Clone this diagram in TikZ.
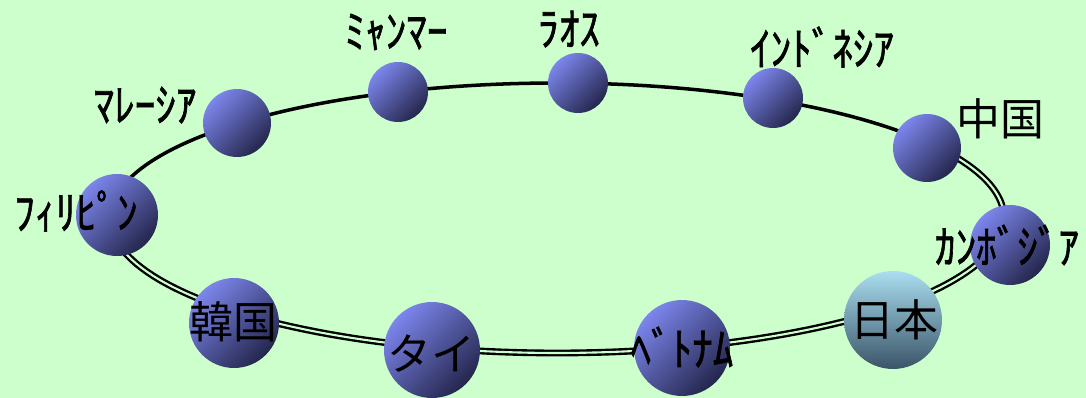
\documentclass[tikz,border=0pt]{standalone}
\usepackage{fontspec}
\newfontfamily\jpfont{Noto Sans CJK JP}
\newfontfamily\kanafont{Noto Sans CJK JP}[FakeBold=1.3, FakeStretch=0.9]
\definecolor{bgmint}{RGB}{204,255,204}
\definecolor{ballhi}{RGB}{124,134,236}
\definecolor{ballmid}{RGB}{98,104,200}
\definecolor{balllo}{RGB}{36,38,76}
\definecolor{japhi}{RGB}{170,222,240}
\definecolor{japmid}{RGB}{122,170,192}
\definecolor{japlo}{RGB}{58,84,104}

\begin{document}
\begin{tikzpicture}[
  x=0.02cm, y=-0.02cm,
  lbl/.style={font=\kanafont\fontsize{26}{26}\selectfont, inner sep=0pt},
  bigl/.style={font=\jpfont\fontsize{25}{25}\selectfont, inner sep=0pt},
  ball/.style={circle, minimum size=0.04cm*#1, inner sep=0pt,
               top color=ballhi, middle color=ballmid, bottom color=balllo, shading angle=45},
  jball/.style={ball=#1, top color=japhi, middle color=japmid, bottom color=japlo},
  ring/.style={draw=black, line width=2pt},
  dring/.style={draw=black, line width=1.35pt, double=bgmint, double distance=1.2pt}
]
% background
\fill[bgmint] (0,0) rectangle (1086,398);

% the ring: single line on top, double line below
\draw[ring]  plot[domain=180:326, samples=90] ({557+447*cos(\x)}, {218+135*sin(\x)});
\draw[dring] plot[domain=326:540, samples=120] ({557+447*cos(\x)}, {218+135*sin(\x)});

% balls on the ring
\node[ball=41] (phl) at (117,215) {};
\node[ball=34] (mys) at (237,123) {};
\node[ball=30] (mmr) at (398,92)  {};
\node[ball=30] (lao) at (578,83)  {};
\node[ball=30] (idn) at (773,98)  {};
\node[ball=34] (chn) at (927,148) {};
\node[ball=40] (khm) at (1010,245) {};
\node[jball=49] (jpn) at (893,320) {};
\node[ball=48] (vnm) at (682,348) {};
\node[ball=48] (tha) at (432,350) {};
\node[ball=45] (kor) at (234,323) {};

% country names
\node[lbl]  (phl-t) at (76,211)   {ﾌｨﾘﾋﾟﾝ};
\node[lbl]  (mys-t) at (145,105)  {ﾏﾚｰｼｱ};
\node[lbl]  (mmr-t) at (396,32)   {ﾐｬﾝﾏｰ};
\node[lbl]  (lao-t) at (569,29)   {ﾗｵｽ};
\node[lbl]  (idn-t) at (822,47)   {ｲﾝﾄﾞﾈｼｱ};
\node[bigl] (chn-t) at (1000,119) {中国};
\node[lbl]  (khm-t) at (1007,245) {ｶﾝﾎﾞｼﾞｱ};
\node[bigl] (jpn-t) at (894,320)  {日本};
\node[lbl]  (vnm-t) at (682,347)  {ﾍﾞﾄﾅﾑ};
\node[bigl] (tha-t) at (431,354)  {タイ};
\node[bigl] (kor-t) at (233,322)  {韓国};
\end{tikzpicture}
\end{document}
